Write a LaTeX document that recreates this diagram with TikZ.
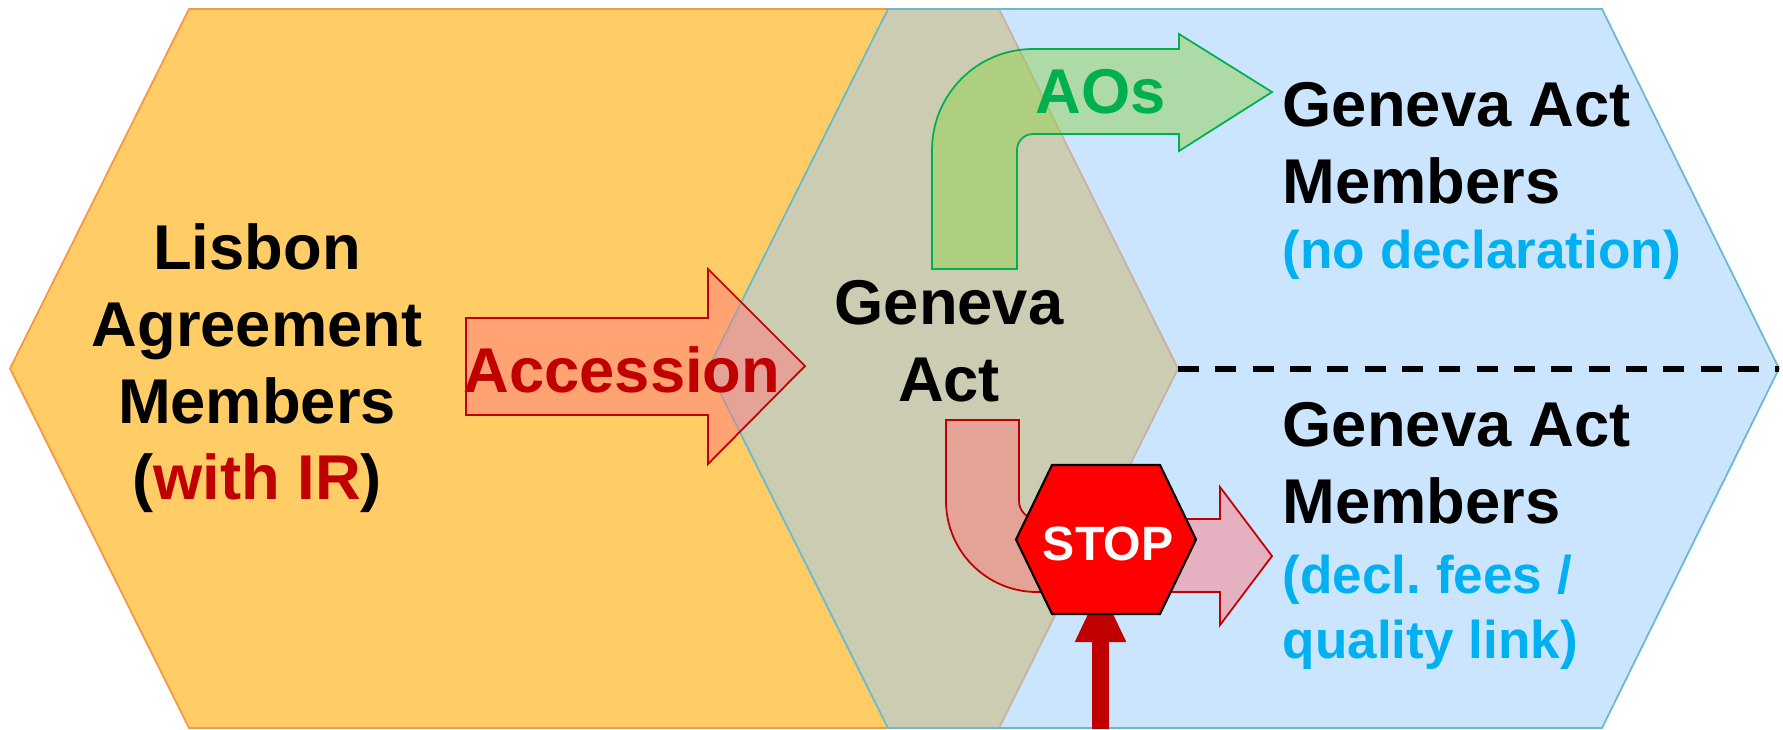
\documentclass[tikz,border=0pt]{standalone}
\usepackage{fontspec}
\setmainfont{Liberation Sans}
\usetikzlibrary{arrows.meta}
\definecolor{hexorange}{HTML}{FFCC66}
\definecolor{hexblue}{HTML}{99CCFF}
\definecolor{edgeorange}{HTML}{F79646}
\definecolor{edgeblue}{HTML}{66BBCC}
\definecolor{darkred}{HTML}{C00000}
\definecolor{softred}{HTML}{FF7C80}
\definecolor{softgreen}{HTML}{92D050}
\definecolor{darkgreen}{HTML}{00B050}
\definecolor{skyblue}{HTML}{00B0F0}
\tikzset{
  bigtext/.style={inner sep=0pt, font=\fontsize{18}{21.8}\selectfont\bfseries, align=center},
  subtext/.style={inner sep=0pt, font=\fontsize{15.1}{18.4}\selectfont\bfseries, align=left, text=skyblue},
  redarrow/.style={draw=darkred, fill=softred, fill opacity=0.5, line width=0.5pt, line join=miter},
  greenarrow/.style={draw=darkgreen, fill=softgreen, fill opacity=0.5, line width=0.5pt},
  stopsign/.style={draw=black, fill=red, line width=0.6pt, line join=miter}
}

\begin{document}
\begin{tikzpicture}[x=0.01cm, y=-0.01cm]
    \useasboundingbox (0,0) rectangle (1783,729);

    % the two hexagons
    \filldraw[fill=hexorange, draw=edgeorange, line width=0.5pt]
      (10,368.5) -- (189,9) -- (999,9) -- (1178,368.5) -- (999,728) -- (189,728) -- cycle;
    \filldraw[fill=hexblue, fill opacity=0.5, draw=edgeblue, line width=0.5pt]
      (708,368.5) -- (888,9) -- (1602,9) -- (1779,368.5) -- (1602,728) -- (888,728) -- cycle;

    \coordinate(DashL) at (1178, 369);
    \coordinate(DashR) at (1779, 369);
    \draw[line width=1.6pt, dash pattern=on 0.21cm off 0.163cm] (DashL) -- (DashR);

    % arrows
    \draw[redarrow] (466,318) -- (708,318) -- (708,269) -- (805,366) -- (708,464) -- (708,415) -- (466,415) -- cycle;
    \draw[greenarrow] (932,269) -- (932,150) arc[start angle=180, end angle=270, radius=101]
      -- (1179,49) -- (1179,34) -- (1272,92) -- (1179,151) -- (1179,134) -- (1033,134)
      arc[start angle=270, end angle=180, radius=16] -- (1017,269) -- cycle;
    \draw[redarrow] (946,420) -- (1019,420) -- (1019,501)
      arc[start angle=180, end angle=90, radius=18]
      -- (1220,519) -- (1220,487) -- (1272,556) -- (1220,625) -- (1220,592) -- (1037,592)
      arc[start angle=90, end angle=180, radius=91] -- cycle;

    \coordinate(PushFoot) at (1100.5, 729);
    \coordinate(PushTip) at (1100.5, 586);
    \draw[-{Triangle[length=0.56cm, width=0.47cm]}, draw=darkred, fill=darkred, line width=0.17cm] (PushFoot) -- (PushTip);

    \draw[stopsign] (1016,539.5) -- (1052,465) -- (1160,465) -- (1196,539.5) -- (1160,614) -- (1052,614) -- cycle;

    % text
    \node[bigtext](Lisbon) at (257, 368.5) {Lisbon\\Agreement\\Members\\(\textcolor{darkred}{with IR})};
    \node[bigtext](Act) at (949, 341) {Geneva\\Act};
    \node[bigtext, text=darkred](Accession) at (622, 370) {Accession};
    \node[bigtext, text=darkgreen](AOs) at (1101, 92) {AOs};
    \node[bigtext, align=left, anchor=west](MemberA) at (1282, 143) {Geneva Act\\Members};
    \node[subtext, anchor=base west](NoteA) at (1282, 268.7) {(no declaration)};
    \node[bigtext, align=left, anchor=west](MemberB) at (1282, 463) {Geneva Act\\Members};
    \node[subtext, anchor=west](NoteB) at (1282, 612) {(decl.\ fees /\\quality link)};
    \node[inner sep=0pt, text=white, font=\fontsize{13.7}{16}\selectfont\bfseries](Stop) at (1108, 544) {STOP};
\end{tikzpicture}
\end{document}
